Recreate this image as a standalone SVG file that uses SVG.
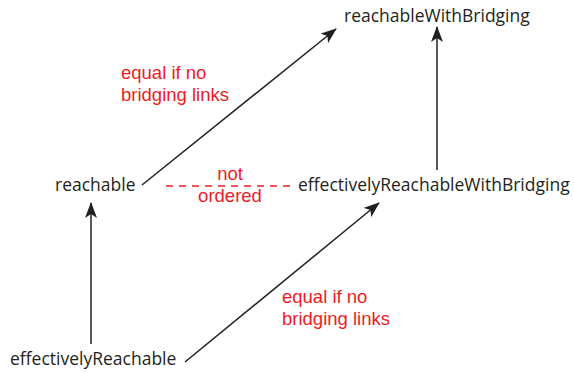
<svg xmlns="http://www.w3.org/2000/svg" width="574" height="373" viewBox="0 0 574 373">
  <style>
    .node { font-family: "Open Sans", "Liberation Sans", sans-serif; font-size: 17.5px; fill: #231f20; }
    .note { font-family: "Liberation Sans", "Open Sans", sans-serif; font-size: 18.5px; fill: #ed1c24; }
    .edge { stroke: #231f20; stroke-width: 1.5; fill: none; marker-end: url(#head); }
    .dash { stroke: #ed1c24; stroke-width: 1.5; fill: none; stroke-dasharray: 7 6; }
  </style>
  <defs>
    <marker id="head" viewBox="0 0 16 12" refX="15" refY="6" markerWidth="16" markerHeight="12" markerUnits="userSpaceOnUse" orient="auto">
      <path d="M0,0 L16,6 L0,12 L4,6 Z" fill="#231f20"/>
    </marker>
  </defs>
  <rect width="574" height="373" fill="#ffffff"/>

  <g id="connectors">
    <line class="edge" x1="142" y1="185" x2="336" y2="29"/>
    <line class="edge" x1="437" y1="170" x2="437" y2="27"/>
    <line class="edge" x1="91" y1="344" x2="91" y2="203"/>
    <line class="edge" x1="185" y1="362" x2="379" y2="203"/>
    <line class="dash" x1="166" y1="186" x2="294" y2="186"/>
  </g>

  <g id="reachableWithBridging">
    <text class="node" x="344" y="22">reachableWithBridging</text>
  </g>
  <g id="reachable">
    <text class="node" x="55" y="191">reachable</text>
  </g>
  <g id="effectivelyReachableWithBridging">
    <text class="node" x="298" y="191">effectivelyReachableWithBridging</text>
  </g>
  <g id="effectivelyReachable">
    <text class="node" x="10" y="365">effectivelyReachable</text>
  </g>

  <g id="labels">
    <text class="note" x="121" y="79">equal if no</text>
    <text class="note" x="121" y="100.5">bridging links</text>
    <text class="note" x="230" y="180" text-anchor="middle">not</text>
    <text class="note" x="230" y="202" text-anchor="middle">ordered</text>
    <text class="note" x="282" y="303">equal if no</text>
    <text class="note" x="282" y="324.5">bridging links</text>
  </g>
</svg>
